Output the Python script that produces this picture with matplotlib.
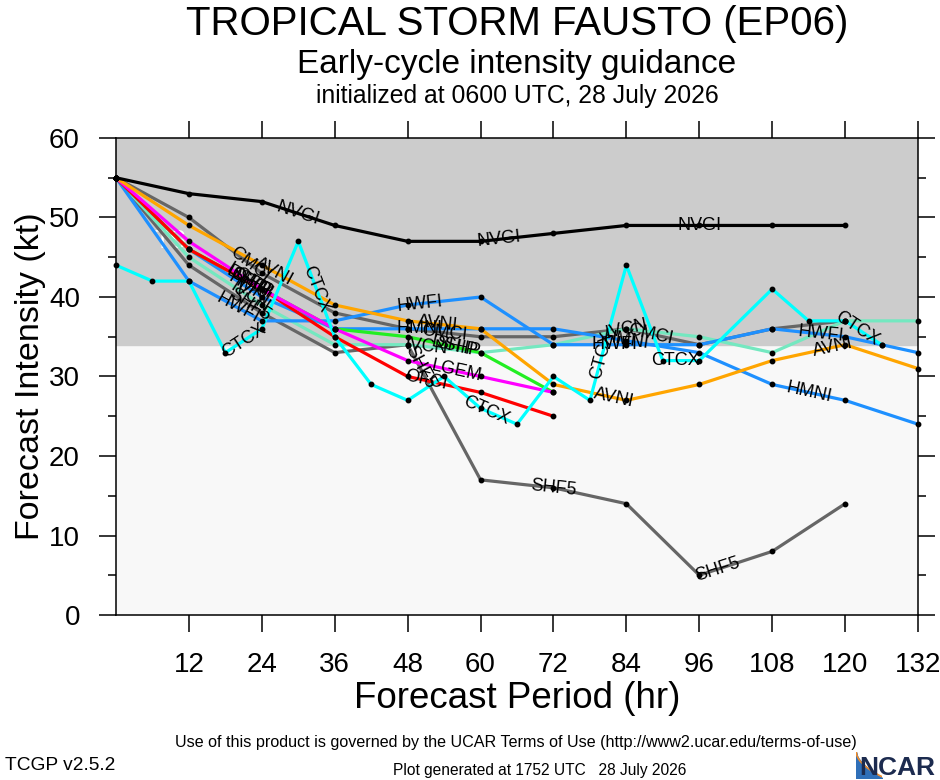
import numpy as np
import matplotlib
matplotlib.use('Agg')
import matplotlib.pyplot as plt

plt.rcParams['font.family'] = ['Liberation Sans Narrow', 'Liberation Sans', 'DejaVu Sans']

# forecast hours and intensities (kt) for each guidance model
hrs12 = [0, 12, 24, 36, 48, 60, 72, 84, 96, 108, 120]
nvgi = [55, 53, 52, 49, 47, 47, 48, 49, 49, 49, 49]

avni_h = [0, 12, 24, 36, 48, 60, 72, 84, 96, 108, 120, 132]
avni = [55, 49, 44, 39, 37, 36, 29, 27, 29, 32, 34, 31]

cmci_h = [0, 12, 24, 36, 48, 60, 72, 84, 96, 108, 120]
cmci = [55, 50, 43, 38, 36, 35, 35, 36, 34, 36, 37]

shf5_h = [0, 12, 24, 36, 48, 60, 72, 84, 96, 108, 120]
shf5 = [55, 44, 38, 33, 34, 17, 16, 14, 5, 8, 14]

lgem_h = [0, 12, 24, 36, 48, 60, 72]
lgem = [55, 47, 41, 36, 32, 30, 28]

ofci_h = [0, 12, 24, 36, 48, 60, 72]
ofci = [55, 46, 41, 35, 30, 28, 25]

dshp_h = [0, 12, 24, 36, 48, 60, 72]
dshp = [55, 46, 41, 36, 35, 33, 28]

ivcn_h = [0, 12, 24, 36, 48, 60, 72, 84, 96, 108, 120, 132]
ivcn = [55, 45, 39, 34, 34, 33, 34, 36, 35, 33, 37, 37]

hmni_h = [0, 12, 24, 36, 48, 60, 72, 84, 96, 108, 120, 132]
hmni = [55, 46, 40, 36, 36, 36, 36, 34.5, 33, 29, 27, 24]

hwfi_h = [0, 12, 24, 36, 48, 60, 72, 84, 96, 108, 120, 126, 132]
hwfi = [55, 42, 37, 37, 39, 40, 34, 34, 34, 36, 35, 34, 33]

ctcx_h = [0, 6, 12, 18, 24, 30, 36, 42, 48, 54, 60, 66, 72, 78, 84, 90, 96, 108, 114, 120, 126]
ctcx = [44, 42, 42, 33, 36, 47, 35, 29, 27, 30, 26, 24, 30, 27, 44, 32, 32, 41, 37, 37, 34]

models = [
    ('SHF5', shf5_h, shf5, '#666666'),
    ('CMCI', cmci_h, cmci, '#666666'),
    ('IVCN', ivcn_h, ivcn, '#74e8c0'),
    ('HMNI', hmni_h, hmni, '#1e90ff'),
    ('HWFI', hwfi_h, hwfi, '#1e90ff'),
    ('DSHP', dshp_h, dshp, '#22ee22'),
    ('OFCI', ofci_h, ofci, '#ff0000'),
    ('LGEM', lgem_h, lgem, '#ff00ff'),
    ('AVNI', avni_h, avni, '#ffa500'),
    ('CTCX', ctcx_h, ctcx, '#00ffff'),
    ('NVGI', hrs12, nvgi, '#000000'),
]

# (model, hour) where the model name is written along its line
line_labels = [
    ('NVGI', 30), ('NVGI', 63), ('NVGI', 96),
    ('AVNI', 26), ('AVNI', 53), ('AVNI', 82), ('AVNI', 118),
    ('CMCI', 22), ('CMCI', 54), ('CMCI', 88),
    ('SHF5', 22), ('SHF5', 50), ('SHF5', 72), ('SHF5', 99),
    ('LGEM', 22), ('LGEM', 56),
    ('OFCI', 22), ('OFCI', 51),
    ('DSHP', 22), ('DSHP', 56), ('SHIP', 22), ('SHIP', 56),
    ('IVCN', 22), ('IVCN', 51), ('IVCN', 84),
    ('HMNI', 22), ('HMNI', 50), ('HMNI', 84), ('HMNI', 114),
    ('HWFI', 20), ('HWFI', 50), ('HWFI', 82), ('HWFI', 116),
    ('CTCX', 21), ('CTCX', 33), ('CTCX', 61), ('CTCX', 80), ('CTCX', 92), ('CTCX', 122),
]

fig = plt.figure(figsize=(9.4, 7.8), dpi=100)
ax = fig.add_axes([116/940, 165/780, 802/940, 477/780])
ax.set_xlim(0, 132)
ax.set_ylim(0, 60)
ax.set_facecolor('#f8f8f8')
ax.axhspan(34, 60, color='#cccccc', zorder=0)
ax.text(9, 47, 'TS', color='white', fontsize=18, ha='center', va='center', zorder=1)

series = {}
for name, h, v, c in models:
    series[name] = (h, v)
    ax.plot(h, v, '-', color=c, lw=2.3, zorder=2, clip_on=False)
    ax.plot(h, v, 'o', color='black', ms=3.2, zorder=3, clip_on=False)
series['SHIP'] = series['DSHP']

for name, hr in line_labels:
    h, v = series[name]
    y = np.interp(hr, h, v)
    i = np.searchsorted(h, hr)
    i = min(max(i, 1), len(h) - 1)
    p0 = ax.transData.transform((h[i-1], v[i-1]))
    p1 = ax.transData.transform((h[i], v[i]))
    ang = np.degrees(np.arctan2(p1[1] - p0[1], p1[0] - p0[0]))
    ax.text(hr, y, name, fontsize=13, rotation=ang, rotation_mode='anchor',
            ha='center', va='center', zorder=4)

ax.set_xticks(range(12, 133, 12))
ax.set_yticks(range(0, 61, 10))
ax.set_yticks(range(5, 60, 10), minor=True)
ax.tick_params(axis='both', which='major', direction='out', length=12, width=1.1,
               labelsize=20, pad=14)
ax.tick_params(axis='x', which='major', top=True, pad=15)
ax.tick_params(axis='y', which='both', right=True)
ax.tick_params(axis='y', which='minor', direction='out', length=6, width=1.1)
for s in ax.spines.values():
    s.set_linewidth(1.1)

ax.set_xlabel('Forecast Period (hr)', fontsize=26.5, labelpad=2)
ax.set_ylabel('Forecast Intensity (kt)', fontsize=24.5, labelpad=2)

cx = (116 + 918) / 2 / 940
fig.text(cx, 1 - 35/780, 'TROPICAL STORM FAUSTO (EP06)', fontsize=29, ha='center', va='baseline')
fig.text(cx, 1 - 73/780, 'Early-cycle intensity guidance', fontsize=24, ha='center', va='baseline')
fig.text(cx, 1 - 103/780, 'initialized at 0600 UTC, 28 July 2026', fontsize=17.8, ha='center', va='baseline')

fig.text(516/940, 1 - 742/780,
         'Use of this product is governed by the UCAR Terms of Use (http://www2.ucar.edu/terms-of-use)',
         fontsize=11.6, ha='center', va='center')
fig.text(5/940, 1 - 765/780, 'TCGP v2.5.2', fontsize=13.8, ha='left', va='center')
fig.text(540/940, 1 - 771/780, 'Plot generated at 1752 UTC   28 July 2026', fontsize=11.2,
         ha='center', va='center')

# NCAR logo
lax = fig.add_axes([856/940, 2/780, 26/940, 26/780])
lax.axis('off')
t = np.linspace(0, 1, 30)
lax.fill_between(t, 0, 1 - t**0.6, color='#2f6fb8')
lax.plot(t, 1.05 - t**0.5, color='#f08c2a', lw=1.2)
lax.set_xlim(0, 1)
lax.set_ylim(0, 1)
fig.text(935/940, 1 - 768/780, 'NCAR', fontsize=19, fontweight='bold', color='#1c2b4f',
         ha='right', va='center')

fig.savefig('out.png', dpi=100)
